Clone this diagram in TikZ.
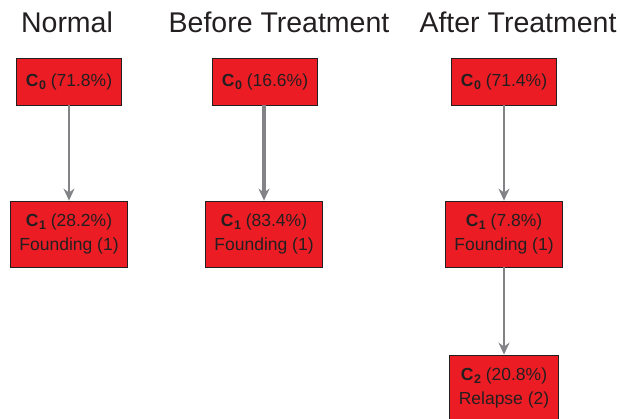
\documentclass[tikz,border=0pt]{standalone}
\usepackage{fontspec}
\setmainfont{Liberation Sans}
\usepackage{tikz}
\usetikzlibrary{arrows.meta, positioning}
\definecolor{cloneRed}{HTML}{EC1C24}
\definecolor{edgeGray}{HTML}{828386}
\definecolor{inkDark}{HTML}{231F20}
\tikzstyle{clone} = [rectangle, align=center, inner xsep=9pt, inner ysep=4pt, draw=inkDark, line width=0.8pt, fill=cloneRed, text=inkDark, font=\fontsize{17.5}{24}\selectfont]
\tikzstyle{root} = [clone, minimum height=47pt]
\tikzstyle{child} = [clone, minimum height=66pt]
\tikzstyle{arrow} = [draw=edgeGray, line width=1.5pt, -{Stealth[inset=4pt, length=12pt, width=11pt]}]
\tikzstyle{title} = [font=\fontsize{28.5}{30}\selectfont, text=inkDark]
\newcommand{\cl}[1]{\textbf{C\kern0.5pt\raisebox{-3.2pt}{\fontsize{12.5}{12}\selectfont#1}}}

\begin{document}
\begin{tikzpicture}[x=1pt, y=-1pt]
  \useasboundingbox (0,0) rectangle (620,419);
  % Titles
  \node[title] (t1) at (67,22) {Normal};
  \node[title] (t2) at (279,22) {Before Treatment};
  \node[title] (t3) at (518,22) {After Treatment};

  % Normal
  \node[root] (n0) at (69,81.5) {\cl{0} (71.8\%)};
  \node[child] (n1) at (69,234) {\cl{1} (28.2\%)\\Founding (1)};

  % Before Treatment
  \node[root] (b0) at (265,81.5) {\cl{0} (16.6\%)};
  \node[child] (b1) at (264,234) {\cl{1} (83.4\%)\\Founding (1)};

  % After Treatment
  \node[root] (a0) at (504,81.5) {\cl{0} (71.4\%)};
  \node[child] (a1) at (504,234) {\cl{1} (7.8\%)\\Founding (1)};
  \node[child] (a2) at (504,388) {\cl{2} (20.8\%)\\Relapse (2)};

  % Arrows
  \draw[arrow] (n0) -- (n1);
  \draw[arrow, line width=3.5pt] (b0.south -| b1) -- (b1);
  \draw[arrow] (a0) -- (a1);
  \draw[arrow] (a1) -- (a2);
\end{tikzpicture}
\end{document}
